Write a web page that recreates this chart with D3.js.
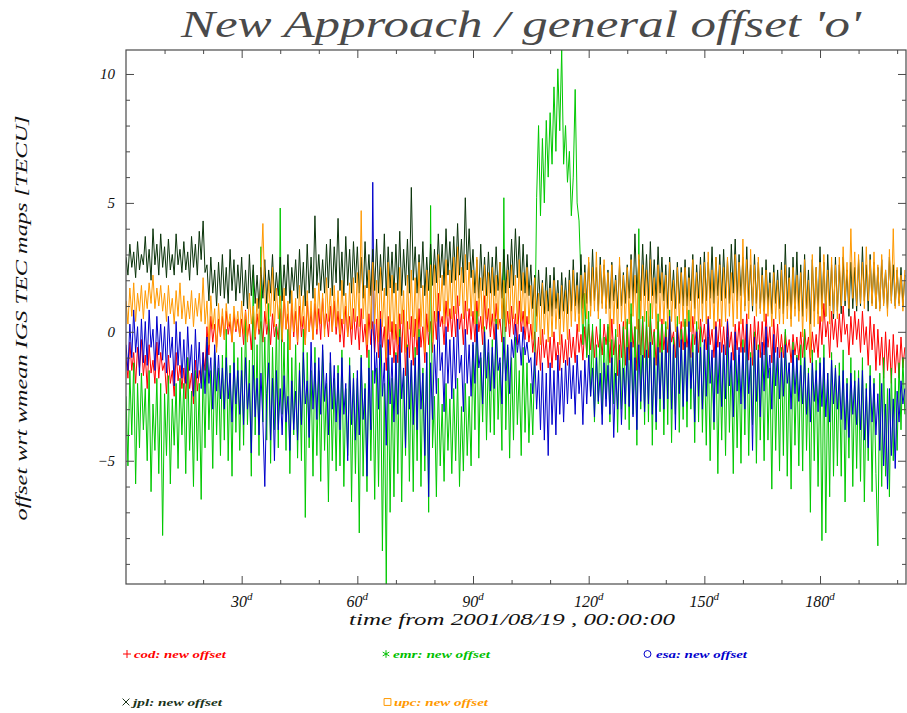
<!DOCTYPE html>
<html><head><meta charset="utf-8">
<script src="https://cdn.jsdelivr.net/npm/d3@7"></script>
<style>body{margin:0;background:#fff}svg{display:block}</style>
</head><body><svg id="c" width="907" height="713"></svg>
<script>
// ---------- data (one sample every half day) ----------
const dayStep = 0.5;
const titleText = "New Approach / general offset 'o'";
const xAxisTitle = "time from 2001/08/19 , 00:00:00";
const yAxisTitle = "offset wrt wmean IGS TEC maps [TECU]";
const xMajorTicks = [30, 60, 90, 120, 150, 180];
const xMajorLabels = ["30", "60", "90", "120", "150", "180"];
const xMinorTicks = [10, 20, 40, 50, 70, 80, 100, 110, 130, 140, 160, 170, 190, 200];
const yMajorTicks = [-5, 0, 5, 10];
const yMajorLabels = ["\u22125", "0", "5", "10"];
const yMinorTicks = [-9, -8, -7, -6, -4, -3, -2, -1, 1, 2, 3, 4, 6, 7, 8, 9];
const seriesNames = ["cod", "emr", "esa", "jpl", "upc"];
const seriesLegend = ["cod: new offset", "emr: new offset", "esa: new offset", "jpl: new offset", "upc: new offset"];

const cod = [
-1.0,-1.8,-0.4,-1.5,-0.8,-2.0,-0.6,-1.4,-0.3,-1.7,
-0.9,-2.2,-0.5,-1.6,-1.1,-2.0,-0.4,-1.8,-0.8,-1.5,
-1.2,-2.4,-0.9,-2.0,-1.5,-2.5,-0.8,-1.9,-1.3,-2.2,
-1.4,-2.6,-1.0,-2.2,-1.6,-2.8,-1.1,-2.3,-1.5,-2.0,
-0.8,-1.5,0.2,-0.9,0.6,-0.4,0.3,-0.6,0.5,-0.2,
0.6,-0.3,0.8,-0.1,0.4,-0.4,0.7,0.0,0.5,-0.2,
0.5,-0.5,0.85,-0.2,0.3,-0.7,0.6,-0.3,0.7,-0.1,
0.4,-0.4,0.8,-0.1,0.5,-0.5,0.7,-0.2,0.3,-0.3,
0.9,-0.4,1.4,0.1,0.7,-0.7,1.1,-0.2,0.8,-0.5,
1.0,-0.2,0.6,-0.5,1.2,0.0,0.8,-0.3,1.1,-0.1,
0.9,-0.3,1.3,0.1,0.7,-0.2,1.0,0.0,1.2,-0.1,
0.8,-0.4,0.5,-0.6,1.0,-0.2,0.6,-0.5,0.9,-0.3,
0.6,-0.7,0.9,-0.4,0.3,-1.0,0.7,-0.5,0.4,-0.8,
0.5,-1.0,0.8,-0.6,0.2,-1.5,0.6,-0.9,0.4,-1.2,
0.3,-1.2,0.7,-0.8,0.85,-1.7,0.4,-1.0,0.6,-1.3,
0.5,-0.9,0.9,-0.6,0.2,-1.2,0.7,-0.5,0.4,-0.8,
0.8,-0.3,1.5,0.2,0.6,-0.5,1.2,0.0,0.9,-0.2,
1.0,-0.2,1.4,0.1,0.7,-0.5,1.2,-0.1,0.9,-0.3,
0.8,-0.4,1.2,0.0,0.6,-0.5,1.4,0.1,0.9,-0.2,
0.7,-0.3,1.1,0.1,0.5,-0.4,1.3,0.0,0.8,-0.2,
1.0,-0.1,0.7,-0.5,1.2,0.0,0.8,-0.3,0.6,-0.4,
0.3,-0.8,0.0,-1.3,-0.2,-1.5,0.1,-1.0,-0.3,-1.4,
-0.2,-1.4,0.0,-1.1,-0.4,-1.5,-0.1,-1.2,-0.3,-1.3,
0.1,-1.0,-0.2,-1.2,0.3,-0.8,-0.1,-1.1,0.2,-0.9,
0.3,-0.7,0.1,-1.0,0.2,-0.6,-0.1,-0.9,0.3,-0.5,
0.2,-1.2,0.5,-0.9,-0.1,-1.7,0.3,-1.0,0.4,-1.3,
0.4,-1.1,0.7,-0.6,0.2,-1.5,0.5,-0.9,0.6,-1.0,
0.3,-1.0,0.6,-0.5,0.1,-1.3,0.4,-0.8,0.5,-0.7,
0.2,-0.8,0.5,-0.4,0.0,-1.0,0.3,-0.6,0.4,-0.7,
0.4,-0.6,0.1,-1.0,0.6,-0.5,0.2,-0.8,0.5,-0.4,
0.3,-0.7,0.6,-0.5,0.1,-1.0,0.4,-0.6,0.5,-0.8,
0.2,-0.9,0.5,-0.6,0.0,-1.1,0.3,-0.7,0.4,-0.8,
0.5,-0.8,0.7,-1.1,0.3,-1.3,0.6,-0.7,0.4,-1.0,
0.4,-0.9,0.7,-0.6,0.2,-1.2,0.5,-0.8,0.3,-1.0,
-0.1,-1.0,0.0,-0.8,-0.3,-1.2,-0.1,-0.9,-0.2,-1.1,
0.0,-1.0,0.1,-0.7,-0.2,-1.2,0.0,-0.8,-0.1,-1.0,
0.6,-0.5,1.1,-0.2,0.4,-1.0,0.8,-0.3,0.5,-0.6,
0.7,-0.4,1.0,-0.1,0.3,-0.9,0.6,-0.5,0.8,-0.3,
0.5,-0.8,0.8,-0.5,0.2,-1.3,0.6,-0.7,0.3,-1.5,
0.1,-1.3,-0.2,-1.8,0.0,-1.5,-0.3,-2.0,-0.1,-1.6,
-0.5,-1.8,-0.2,-1.4,-0.6];

const emr = [
-2.5,-5.2,-1.5,-4.0,-1.2,-5.9,-2.0,-4.5,-1.6,-3.8,
-2.2,-5.0,-1.5,-6.2,-2.8,-4.6,-1.8,-5.5,-2.0,-7.9,
-2.4,-4.8,-1.7,-5.9,-2.6,-4.4,-2.0,-5.3,-1.8,-4.0,
-2.0,-5.5,-1.0,-4.6,-2.3,-6.0,-1.5,-5.0,-2.0,-6.5,
-1.2,-4.5,-0.4,-3.8,-1.5,-5.3,-0.8,-4.0,-1.4,-4.8,
-0.9,-4.2,0.1,-5.0,-1.3,-5.6,-0.4,-3.9,-1.0,-4.6,
-0.6,-4.4,0.5,-3.6,-1.1,-5.6,2.4,-4.0,-0.5,-4.8,
3.3,-3.5,-0.2,-4.2,1.1,-5.1,-0.6,-3.8,0.2,-4.5,
4.8,-3.2,-0.4,-4.6,0.1,-5.5,-1.0,-4.0,-0.5,-4.9,
-1.2,-5.0,0.1,-7.2,-0.8,-4.5,-1.5,-5.6,-0.6,-4.8,
-1.5,-5.8,-0.7,-4.6,-2.0,-6.6,-1.2,-5.0,-1.8,-5.4,
-1.3,-5.2,-0.7,-6.0,-2.2,-4.8,-1.0,-6.6,-1.6,-5.5,
-1.8,-7.8,-0.9,-5.6,-2.0,-6.2,-0.7,-5.0,-1.5,-6.5,
-1.4,-6.0,-0.5,-8.5,-2.0,-9.78,-1.0,-7.0,-1.8,-6.4,
-0.8,-5.5,0.1,-6.6,-1.5,-4.8,-0.5,-5.8,-1.2,-6.2,
-0.6,-5.0,0.1,-6.0,-1.4,-5.4,-0.8,-7.0,4.9,-4.5,
-2.5,-6.4,-1.8,-5.2,-2.8,-5.8,-2.0,-4.6,-2.6,-5.5,
-2.2,-5.0,-1.8,-6.0,-2.9,-5.4,-2.0,-4.8,-2.5,-5.2,
-0.5,-3.8,0.8,-4.9,-1.0,-3.5,0.2,-4.2,-0.8,-3.9,
-0.3,-4.0,0.5,-3.4,-1.2,-4.6,5.2,-3.8,-0.6,-4.9,
-1.0,-4.2,-0.2,-3.6,-1.5,-4.8,-0.6,-3.9,-1.2,-4.3,
-2.0,-4.0,-1.0,5.2,8.0,4.5,7.5,5.0,8.2,6.0,
8.5,6.5,9.5,7.0,10.2,7.8,10.93,6.5,8.0,5.8,
7.0,4.5,6.0,9.4,5.0,4.3,2.0,-0.5,1.5,-1.0,
0.8,-2.5,0.3,-3.5,-0.5,-2.8,0.5,-3.2,-0.2,-2.6,
0.3,-3.5,-0.3,-2.8,0.1,-3.9,-0.5,-3.0,0.2,-3.4,
0.5,-3.8,1.1,-3.2,0.2,-4.4,4.0,-3.0,0.6,-3.6,
0.8,-3.5,1.1,-4.4,0.0,-3.8,0.7,-3.1,0.3,-4.0,
0.4,-3.6,0.85,-4.3,-0.2,-3.2,0.6,-3.9,0.1,-3.4,
0.5,-3.7,0.85,-3.0,-0.1,-4.3,0.4,-3.5,0.2,-3.9,
-0.5,-4.4,-0.2,-5.0,-1.0,-3.8,-0.4,-5.5,-0.8,-4.2,
-0.6,-4.8,-0.2,-3.9,-1.1,-5.5,-0.5,-4.5,-0.9,-5.1,
-0.3,-4.0,0.3,-4.8,-0.8,-3.6,0.0,-5.1,-0.5,-4.2,
-0.8,-5.0,-0.2,-4.2,-1.4,-6.1,-0.6,-4.6,-1.0,-5.4,
-0.6,-4.8,0.1,-5.6,-1.2,-6.1,-0.4,-4.4,-0.9,-5.2,
-0.5,-5.4,0.1,-4.6,-1.4,-7.0,-0.7,-5.0,-1.1,-6.0,
-1.0,-8.1,-0.5,-7.8,-1.6,-6.4,-0.8,-5.6,-1.3,-5.2,
-1.2,-5.6,-0.7,-6.6,-1.8,-4.9,-1.0,-6.0,-1.5,-5.3,
-1.5,-5.8,-1.0,-6.6,-2.0,-5.0,-1.3,-6.2,-1.8,-5.5,
-8.3,-1.6,-6.0,-1.0,-5.6,-2.2,-6.4,-1.4,-5.0,-1.8,
-4.6,-1.2,-3.8,-1.0,-3.2];

const esa = [
-0.5,-1.5,0.3,-1.0,0.85,-0.8,0.2,-1.7,0.5,-1.2,
0.4,-1.3,0.85,-0.6,0.1,-1.5,0.6,-0.9,0.3,-1.1,
0.2,-1.6,0.6,-1.0,-0.2,-2.1,0.4,-1.3,0.0,-1.8,
-0.3,-2.0,0.2,-1.5,-0.5,-2.5,0.1,-1.8,-0.4,-2.2,
-0.8,-2.4,-0.2,-2.0,-1.0,-3.0,-0.5,-2.3,-0.9,-2.6,
-1.4,-3.0,-1.0,-2.6,-1.6,-3.5,-1.2,-2.8,-1.5,-3.2,
-1.5,-3.6,-1.0,-3.0,-2.0,-4.7,-1.3,-3.3,-1.8,-4.0,
-1.6,-3.5,-6.0,-2.4,-1.2,-4.2,-1.8,-5.0,-1.5,-3.8,
-2.2,-4.0,-1.7,-3.5,-2.5,-4.6,-1.9,-3.8,-2.3,-4.2,
-1.5,-3.6,-0.8,-2.8,-1.9,-4.1,-0.4,-3.0,-1.2,-3.4,
-1.0,-3.2,-0.5,-2.7,-1.6,-4.0,-0.8,-3.0,-1.3,-3.5,
-1.6,-3.8,-1.0,-3.2,-2.0,-5.0,-1.3,-3.6,-1.8,-4.2,
-1.5,-4.0,-1.0,-3.4,-2.2,-5.6,-1.4,-3.8,5.8,-2.0,
-0.8,-3.0,0.5,-2.5,-1.2,-4.4,-0.3,-2.8,-1.0,-3.5,
-0.9,-3.2,-0.2,-2.6,-1.4,-4.5,-0.6,-3.0,-1.1,-3.6,
-1.0,-3.8,-0.2,-3.0,-1.6,-4.8,-0.8,-6.4,-1.2,-3.4,
-0.5,-2.4,0.8,-1.5,-0.8,-3.1,0.2,-2.0,-0.3,-2.6,
-0.2,-2.2,0.5,-1.6,-0.9,-3.1,0.1,-2.0,-0.5,-2.5,
-0.4,-2.0,0.3,-1.4,-0.8,-2.8,0.0,-1.8,-0.3,-2.3,
-0.6,-2.2,0.3,-1.5,-1.0,-2.8,-0.2,-1.9,-0.5,-2.4,
-0.3,-1.0,0.3,-0.8,-0.1,-1.3,0.2,-0.9,-0.4,-1.2,
-1.0,-2.4,-0.8,-3.0,-1.5,-3.8,-1.2,-4.2,-1.6,-4.8,
-1.2,-3.6,-1.5,-4.0,-0.9,-3.2,-1.4,-3.5,-1.1,-2.8,
-1.0,-2.6,-1.3,-3.2,-0.9,-2.4,-1.5,-3.6,-1.1,-2.8,
-0.9,-2.5,-1.4,-3.3,-1.0,-2.7,-1.6,-3.6,-1.2,-2.9,
-1.3,-3.2,-1.0,-4.1,-1.6,-3.0,-1.1,-3.6,-1.4,-2.8,
-0.6,-2.9,-0.4,-3.3,-1.0,-3.8,-0.5,-2.7,-0.9,-3.1,
-0.7,-2.8,-0.4,-3.2,-1.0,-3.5,-0.6,-2.6,-0.8,-3.0,
-0.2,-2.6,0.6,-3.0,-0.5,-3.8,0.2,-2.4,-0.3,-2.9,
-0.4,-2.7,0.4,-2.2,-0.8,-3.5,0.0,-2.5,-0.6,-3.0,
-0.3,-2.5,0.5,-2.0,-0.7,-3.5,0.2,-2.4,-0.4,-2.9,
-0.5,-2.6,0.4,-2.1,-0.8,-3.3,0.0,-2.3,-0.6,-2.8,
-0.6,-3.0,0.3,-2.4,-1.0,-4.6,-0.2,-2.7,-0.7,-3.3,
-0.4,-2.3,0.2,-1.8,-0.9,-3.0,-0.1,-2.1,-0.6,-2.6,
-0.8,-2.5,-0.5,-2.0,-1.2,-3.0,-0.7,-2.4,-1.0,-2.7,
-1.3,-2.8,-1.0,-3.2,-1.6,-3.5,-1.2,-2.7,-1.5,-3.1,
-1.2,-2.9,-1.0,-3.3,-1.6,-3.5,-1.1,-2.8,-1.4,-3.0,
-1.7,-3.4,-1.5,-3.8,-2.0,-4.1,-1.6,-3.2,-1.9,-3.6,
-1.8,-3.8,-1.5,-4.2,-2.2,-4.5,-1.7,-3.5,-2.0,-4.0,
-2.4,-4.6,-2.0,-5.2,-2.8,-6.1,-2.2,-4.8,-2.6,-5.3,
-2.3,-3.5,-1.9,-2.8,-2.2];

const jpl = [
2.9,2.2,3.4,2.5,3.1,2.1,3.5,2.4,3.0,2.6,
3.7,2.3,3.2,2.0,4.0,2.6,3.4,2.2,3.8,2.5,
3.3,2.1,3.6,2.4,3.0,2.2,3.8,2.6,3.2,2.3,
3.5,2.4,3.1,2.0,3.7,2.5,3.4,2.2,3.9,2.8,
4.3,2.3,2.6,1.2,2.9,1.5,2.4,1.0,2.7,1.4,
3.0,1.3,2.5,1.1,3.2,1.6,2.8,1.2,2.6,1.5,
2.9,1.0,2.4,0.9,3.0,1.4,2.6,1.1,2.2,0.9,
2.5,1.3,2.8,1.1,2.4,1.5,3.0,1.2,2.3,1.4,
2.9,1.2,2.6,1.4,3.0,1.1,2.5,1.6,2.8,1.3,
3.2,1.4,2.7,1.0,3.4,1.5,2.9,1.3,4.5,1.8,
3.0,1.6,2.8,1.5,3.4,1.7,3.6,1.4,3.3,1.9,
4.4,1.6,3.1,1.4,3.7,1.8,3.2,1.5,3.5,1.9,
3.3,1.5,2.9,1.3,3.5,1.7,3.0,1.4,3.2,1.6,
3.6,1.5,3.0,1.6,3.8,1.4,3.3,1.7,3.1,1.5,
3.4,1.6,3.9,1.4,3.2,1.8,3.6,1.5,5.6,2.0,
3.3,1.5,3.0,1.7,3.5,1.4,2.9,1.6,3.4,1.8,
3.2,1.9,3.8,2.1,3.4,1.8,4.0,2.2,3.5,1.9,
3.7,2.0,4.2,2.2,3.6,1.9,5.2,2.4,4.0,2.1,
3.2,1.5,2.8,1.3,3.4,1.6,2.9,1.4,3.1,1.5,
2.9,1.4,3.3,1.6,2.7,1.3,3.2,1.5,3.0,1.7,
3.6,1.8,4.0,2.1,3.7,1.6,3.4,1.5,3.0,1.4,
2.6,0.9,2.2,0.6,2.4,1.0,2.0,0.7,2.5,0.8,
2.2,0.6,2.5,0.9,2.0,0.5,2.3,0.8,2.1,0.7,
2.4,0.8,2.8,1.0,2.3,0.7,3.0,0.9,2.6,1.1,
2.7,1.0,3.2,1.2,2.5,0.8,2.9,1.1,2.6,0.9,
2.4,0.9,2.7,1.2,2.2,0.9,2.6,1.0,2.3,1.1,
2.6,1.3,3.0,1.1,3.8,1.5,2.8,1.2,3.4,1.4,
3.0,1.2,3.5,1.4,2.8,1.1,3.3,1.5,2.9,1.2,
2.6,0.9,2.9,1.2,2.4,0.9,2.7,1.1,2.5,1.0,
2.8,1.0,2.5,1.2,3.0,0.9,2.6,1.3,2.9,1.1,
3.1,1.2,2.7,1.3,3.3,1.1,2.9,1.4,3.0,1.2,
3.2,1.3,2.8,1.1,3.4,1.5,3.6,1.2,3.0,1.4,
2.9,1.0,3.3,1.2,2.6,0.8,3.0,1.1,2.7,0.9,
2.5,0.8,2.8,1.0,2.3,0.7,2.6,1.1,2.4,0.9,
2.7,0.7,3.4,1.0,2.5,0.5,2.9,0.9,3.1,0.8,
2.6,0.6,3.0,0.9,2.4,0.3,2.8,0.8,2.5,0.7,
3.3,0.9,2.7,0.6,3.0,1.0,2.6,0.5,2.9,0.8,
2.6,0.7,2.9,1.0,2.4,0.6,2.7,0.9,2.5,0.8,
2.8,1.0,3.3,1.2,2.6,0.8,3.0,1.1,2.7,0.9,
2.5,0.9,2.8,1.1,2.4,0.9,2.9,1.2,2.6,1.0,
2.4,1.1,2.5,1.0,2.2];

const upc = [
1.2,0.3,1.7,0.6,1.9,0.4,1.5,0.8,1.8,0.5,
1.6,0.9,1.9,1.1,2.2,0.9,1.7,1.0,1.8,0.8,
1.5,0.4,1.8,0.7,1.3,0.3,1.6,0.6,1.9,0.5,
1.4,0.3,1.2,0.5,1.6,0.2,1.3,0.6,1.5,0.4,
2.1,0.3,1.2,-0.5,1.4,0.1,0.9,-0.8,1.1,-0.2,
0.9,-0.3,1.1,0.2,0.7,-0.4,1.0,0.1,0.8,-0.2,
1.2,-0.1,0.8,-0.4,1.5,0.3,1.0,-0.2,1.3,0.1,
2.2,4.2,1.5,0.3,2.0,0.6,2.5,0.2,1.7,0.5,
1.4,-0.3,1.7,0.1,1.2,-0.7,1.6,0.0,1.3,-0.4,
1.8,0.2,1.4,-0.5,1.6,0.0,1.2,-0.3,1.7,0.1,
1.9,0.3,1.5,-0.2,2.1,0.4,1.7,0.0,1.8,0.2,
1.6,-0.1,2.0,0.3,1.5,-0.2,1.9,0.1,2.1,0.4,
2.3,0.2,4.7,0.5,1.8,-0.5,2.4,0.1,2.7,0.3,
2.0,-0.4,2.5,0.2,1.7,-1.0,2.7,0.0,2.2,-0.3,
1.9,-0.5,2.5,0.3,1.6,-0.8,2.2,0.1,2.4,-0.2,
2.1,-0.3,2.7,0.2,1.8,-0.8,2.4,0.0,2.6,-0.4,
2.6,0.4,3.0,0.8,2.2,0.3,2.8,0.6,2.4,0.5,
2.9,0.7,3.3,1.0,2.5,0.5,3.0,0.8,2.7,0.6,
2.4,0.3,2.9,0.6,2.1,0.1,2.6,0.5,2.3,0.2,
2.5,0.4,2.2,0.1,2.7,0.5,2.0,0.2,2.4,0.3,
2.6,0.5,2.2,0.3,2.8,0.4,2.3,0.2,2.5,0.3,
1.8,-0.3,2.1,0.0,1.5,-0.5,1.9,-0.1,1.6,-0.4,
1.7,-0.2,2.0,0.1,1.5,-0.5,1.8,0.0,1.6,-0.3,
2.0,0.2,2.4,0.4,1.8,0.0,2.2,0.3,2.3,0.5,
2.9,0.6,2.5,0.8,3.1,0.5,2.6,0.9,2.8,0.7,
2.3,-0.4,2.6,0.3,2.0,-0.2,2.9,0.4,2.2,0.1,
2.5,0.3,2.8,0.6,2.2,0.1,3.0,0.5,2.6,0.4,
2.4,0.2,2.8,0.5,2.1,0.1,2.6,0.4,2.3,0.3,
2.2,0.1,2.7,0.4,2.0,0.0,2.5,0.3,2.3,0.2,
2.5,0.2,2.1,0.0,2.8,0.3,2.3,0.1,2.6,0.4,
2.7,0.3,3.1,0.5,2.4,0.1,2.9,0.4,2.6,0.2,
2.5,0.4,2.9,0.6,2.3,0.2,3.0,0.5,2.7,0.3,
3.6,0.8,2.8,0.5,3.2,1.0,2.6,0.6,2.9,0.7,
2.2,0.4,2.4,0.6,1.9,0.2,2.3,0.5,2.0,0.3,
2.4,0.3,2.6,0.5,2.1,0.2,2.5,0.6,2.2,0.4,
2.3,-0.2,2.8,0.4,2.0,-1.0,3.0,0.2,2.5,0.3,
2.7,0.4,3.0,0.6,2.4,0.3,2.9,0.7,2.6,0.5,
2.9,1.0,3.3,1.2,2.7,0.9,4.0,1.3,3.1,1.0,
3.0,1.1,2.7,0.9,3.3,1.2,2.8,1.0,3.1,0.9,
2.6,0.8,3.0,1.0,2.4,0.6,3.2,1.1,4.0,0.9,
2.5,1.0,2.2,0.8,2.4];

const seriesValues = [cod, emr, esa, jpl, upc];
const seriesColors = ["#ff0000", "#00c800", "#0000cc", "#0a330a", "#ff9900"];
const legendColors = ["#ff0000", "#00c000", "#0000cc", "#1a331a", "#ff9900"];

// ---------- drawing ----------
const plot = {left: 126, right: 906, top: 50, bottom: 584};
const svg = d3.select("#c");
const x = d3.scaleLinear().domain([0, 202.3]).range([plot.left, plot.right]);
const y = d3.scaleLinear().domain([-9.78, 10.93]).range([plot.bottom, plot.top]);
const axisColor = "#4a4a4a";
const serif = "'Liberation Serif', 'DejaVu Serif', serif";

svg.append("defs").append("clipPath").attr("id", "clip")
  .append("rect").attr("x", plot.left).attr("y", plot.top)
  .attr("width", plot.right - plot.left).attr("height", plot.bottom - plot.top);

// series lines
const line = d3.line().x((d, i) => x(i * dayStep)).y(d => y(d));
const gLines = svg.append("g").attr("clip-path", "url(#clip)");
seriesValues.forEach((vals, k) => {
  gLines.append("path").datum(vals)
    .attr("fill", "none").attr("stroke", seriesColors[k])
    .attr("stroke-width", 1).attr("stroke-linejoin", "miter")
    .attr("d", line);
});

// axes (ticks point inward on all four sides)
function tickAxis(axis, transform, values, size) {
  const g = svg.append("g").attr("transform", transform)
    .call(axis.tickValues(values).tickSize(size).tickSizeOuter(0).tickFormat(""));
  g.select(".domain").remove();
  g.selectAll(".tick line").attr("stroke", axisColor);
  g.selectAll(".tick text").remove();
}
tickAxis(d3.axisBottom(x), `translate(0,${plot.bottom})`, xMajorTicks, -8);
tickAxis(d3.axisBottom(x), `translate(0,${plot.bottom})`, xMinorTicks, -4);
tickAxis(d3.axisTop(x), `translate(0,${plot.top})`, xMajorTicks, -8);
tickAxis(d3.axisTop(x), `translate(0,${plot.top})`, xMinorTicks, -4);
tickAxis(d3.axisLeft(y), `translate(${plot.left},0)`, yMajorTicks, -8);
tickAxis(d3.axisLeft(y), `translate(${plot.left},0)`, yMinorTicks, -4);
tickAxis(d3.axisRight(y), `translate(${plot.right},0)`, yMajorTicks, -8);
tickAxis(d3.axisRight(y), `translate(${plot.right},0)`, yMinorTicks, -4);

// frame
svg.append("rect").attr("x", plot.left).attr("y", plot.top)
  .attr("width", plot.right - plot.left).attr("height", plot.bottom - plot.top)
  .attr("fill", "none").attr("stroke", axisColor).attr("stroke-width", 1.2);

// y tick labels
svg.append("g").selectAll("text").data(yMajorTicks).join("text")
  .attr("x", plot.left - 11).attr("y", d => y(d) + 5)
  .attr("text-anchor", "end").attr("font-family", serif).attr("font-style", "italic")
  .attr("font-size", 15).attr("fill", "#111")
  .text((d, i) => yMajorLabels[i]);

// x tick labels with superscript d
const xl = svg.append("g").selectAll("text").data(xMajorTicks).join("text")
  .attr("x", d => x(d)).attr("y", 607)
  .attr("text-anchor", "middle").attr("font-family", serif).attr("font-style", "italic")
  .attr("font-size", 16).attr("fill", "#111");
xl.append("tspan").text((d, i) => xMajorLabels[i]);
xl.append("tspan").attr("dy", -7).attr("font-size", 11).text("d");

// axis titles
svg.append("text").attr("x", 512).attr("y", 625).attr("text-anchor", "middle")
  .attr("font-family", serif).attr("font-style", "italic").attr("font-size", 17)
  .attr("fill", "#111").attr("textLength", 326).attr("lengthAdjust", "spacingAndGlyphs")
  .text(xAxisTitle);
svg.append("text").attr("transform", "translate(27,318) rotate(-90)").attr("text-anchor", "middle")
  .attr("font-family", serif).attr("font-style", "italic").attr("font-size", 17)
  .attr("fill", "#111").attr("textLength", 405).attr("lengthAdjust", "spacingAndGlyphs")
  .text(yAxisTitle);

// title
svg.append("text").attr("x", 521).attr("y", 37).attr("text-anchor", "middle")
  .attr("font-family", serif).attr("font-style", "italic").attr("font-size", 37)
  .attr("fill", "#4a4a4a").attr("textLength", 680).attr("lengthAdjust", "spacingAndGlyphs")
  .text(titleText);

// legend: [symbol x, baseline y, text x, text length]
const legendPos = [[127, 658, 134, 92], [386, 658, 393, 97], [647.5, 658, 656, 91], [126, 706, 133, 89], [387.5, 706, 394, 94]];
const symTypes = [d3.symbolPlus || d3.symbolCross, d3.symbolAsterisk || d3.symbolStar, d3.symbolCircle,
                  d3.symbolX || d3.symbolCross, d3.symbolSquare2 || d3.symbolSquare];
const symSizes = [23, 40, 38, 32, 60];
const lg = svg.append("g");
seriesNames.forEach((n, k) => {
  const p = legendPos[k];
  lg.append("path").attr("transform", `translate(${p[0]},${p[1] - 4})`)
    .attr("d", d3.symbol().type(symTypes[k]).size(symSizes[k])())
    .attr("fill", "none").attr("stroke", legendColors[k]).attr("stroke-width", 1);
  lg.append("text").attr("x", p[2]).attr("y", p[1])
    .attr("font-family", serif).attr("font-style", "italic").attr("font-weight", "bold")
    .attr("font-size", 11).attr("fill", legendColors[k])
    .attr("textLength", p[3]).attr("lengthAdjust", "spacingAndGlyphs")
    .text(seriesLegend[k]);
});
</script>
</body></html>
